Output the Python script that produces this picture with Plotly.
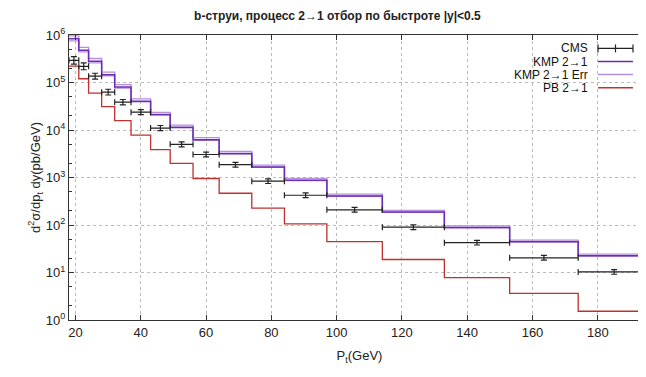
import plotly.graph_objects as go

# Bin edges (GeV)
edges = [18, 21, 24, 28, 32, 37, 43, 49, 56, 64, 74, 84, 97, 114, 133, 153, 174, 196]

# CMS data (pb/GeV)
cms = [2.93e5, 2.19e5, 1.36e5, 6.27e4, 3.85e4, 2.37e4, 1.10e4, 5.0e3, 3.05e3,
       1.86e3, 838, 423, 209, 89.8, 42.5, 20.4, 10.3]
cms_err_rel = [0.20, 0.18, 0.15, 0.15, 0.14, 0.13, 0.13, 0.13, 0.12,
               0.12, 0.12, 0.12, 0.12, 0.12, 0.12, 0.12, 0.12]

# KMP 2->1
kmp = [8.3e5, 4.8e5, 2.8e5, 1.46e5, 8.0e4, 4.04e4, 2.12e4, 1.14e4, 6.22e3,
       3.19e3, 1.66e3, 880, 409, 187, 88.5, 44.6, 22.5]
# KMP 2->1 Err band (upper / lower)
kmp_err_up = [9.6e5, 5.5e5, 3.2e5, 1.66e5, 9.0e4, 4.5e4, 2.36e4, 1.27e4, 6.9e3,
              3.55e3, 1.82e3, 960, 445, 203, 96, 48.2, 24.4]
kmp_err_lo = [7.5e5, 4.4e5, 2.6e5, 1.38e5, 7.6e4, 3.9e4, 2.05e4, 1.11e4, 6.05e3,
              3.12e3, 1.63e3, 865, 403, 185, 87.5, 44.0, 22.2]

# PB 2->1
pb = [2.22e5, 1.20e5, 6.0e4, 3.1e4, 1.58e4, 7.8e3, 3.85e3, 1.98e3, 953,
      466, 227, 106, 44.7, 18.8, 7.8, 3.62, 1.53]

x_ticks = [20, 40, 60, 80, 100, 120, 140, 160, 180]
y_tickvals = [1, 10, 100, 1e3, 1e4, 1e5, 1e6]
y_ticktext = ["10<sup>0</sup>", "10<sup>1</sup>", "10<sup>2</sup>", "10<sup>3</sup>",
              "10<sup>4</sup>", "10<sup>5</sup>", "10<sup>6</sup>"]

title = "b-струи, процесс 2→1 отбор по быстроте |y|<0.5"
legend_names = ["CMS", "KMP 2→1", "KMP 2→1 Err", "PB 2→1"]

C_KMP = "#6c2db5"
C_ERR = "#b590dc"
C_PB = "#c0302e"
C_CMS = "#222222"

centers = [(a + b) / 2 for a, b in zip(edges[:-1], edges[1:])]
halfw = [(b - a) / 2 for a, b in zip(edges[:-1], edges[1:])]


def step(vals):
    return list(vals) + [vals[-1]]


fig = go.Figure()

for arr in (kmp_err_up, kmp_err_lo):
    fig.add_trace(go.Scatter(x=edges, y=step(arr), mode="lines", line_shape="hv",
                             line=dict(color=C_ERR, width=1.3), showlegend=False,
                             hoverinfo="skip"))
fig.add_trace(go.Scatter(x=edges, y=step(kmp), mode="lines", line_shape="hv",
                         line=dict(color=C_KMP, width=1.5), showlegend=False))
fig.add_trace(go.Scatter(x=edges, y=step(pb), mode="lines", line_shape="hv",
                         line=dict(color=C_PB, width=1.3), showlegend=False))
fig.add_trace(go.Scatter(
    x=centers, y=cms, mode="markers",
    marker=dict(size=1, color=C_CMS),
    error_x=dict(type="data", array=halfw, color=C_CMS, thickness=1.2, width=3),
    error_y=dict(type="data", array=[v * e for v, e in zip(cms, cms_err_rel)],
                 arrayminus=[v * e / (1 + e) for v, e in zip(cms, cms_err_rel)],
                 color=C_CMS, thickness=1.2, width=3),
    showlegend=False))

# Custom gnuplot-style legend (text right-aligned, sample to the right)
rows_y = [0.953, 0.907, 0.861, 0.815]
colors = [C_CMS, C_KMP, C_ERR, C_PB]
x_text = 0.897
x0s, x1s = 0.9105, 0.9707
for name, yy, c in zip(legend_names, rows_y, colors):
    fig.add_annotation(x=x_text, y=yy, xref="paper", yref="paper", text=name,
                       showarrow=False, xanchor="right", yanchor="middle",
                       font=dict(size=12, color="#111111"))
    fig.add_shape(type="line", xref="paper", yref="paper", x0=x0s, x1=x1s,
                  y0=yy, y1=yy, line=dict(color=c, width=1.5 if name != "CMS" else 1.2))
# CMS sample caps
for xc in (x0s, (x0s + x1s) / 2, x1s):
    fig.add_shape(type="line", xref="paper", yref="paper", x0=xc, x1=xc,
                  y0=rows_y[0] - 0.014, y1=rows_y[0] + 0.014,
                  line=dict(color=C_CMS, width=1.2))

axis_common = dict(showline=True, linecolor="#333333", linewidth=1, mirror="allticks",
                   ticks="inside", tickcolor="#333333", ticklen=5,
                   showgrid=True, gridcolor="#bbbbbb", griddash="dot", gridwidth=1,
                   zeroline=False, tickfont=dict(size=13, color="#222222"),
                   automargin=False)

fig.update_xaxes(range=[18, 196], tickvals=x_ticks,
                 title=dict(text="P<sub>t</sub>(GeV)", font=dict(size=13, color="#222222"),
                            standoff=12),
                 **axis_common)
fig.update_yaxes(type="log", range=[0, 6], tickvals=y_tickvals, ticktext=y_ticktext,
                 title=dict(text="d<sup>2</sup>σ/dp<sub>t</sub> dy(pb/GeV)",
                            font=dict(size=13, color="#222222"), standoff=2),
                 minor=dict(ticks="inside", ticklen=3, tickcolor="#333333",
                            showgrid=False),
                 **axis_common)

fig.update_layout(
    width=646, height=377,
    margin=dict(l=61, r=4, t=27, b=65),
    paper_bgcolor="white", plot_bgcolor="white",
    font=dict(family="Liberation Sans, Arial, sans-serif"),
    title=dict(text="<b>" + title + "</b>", x=0.51, xanchor="center", y=0.978,
               yanchor="middle", font=dict(size=12, color="#222222")),
    showlegend=False,
)

fig.write_html("out.html")
